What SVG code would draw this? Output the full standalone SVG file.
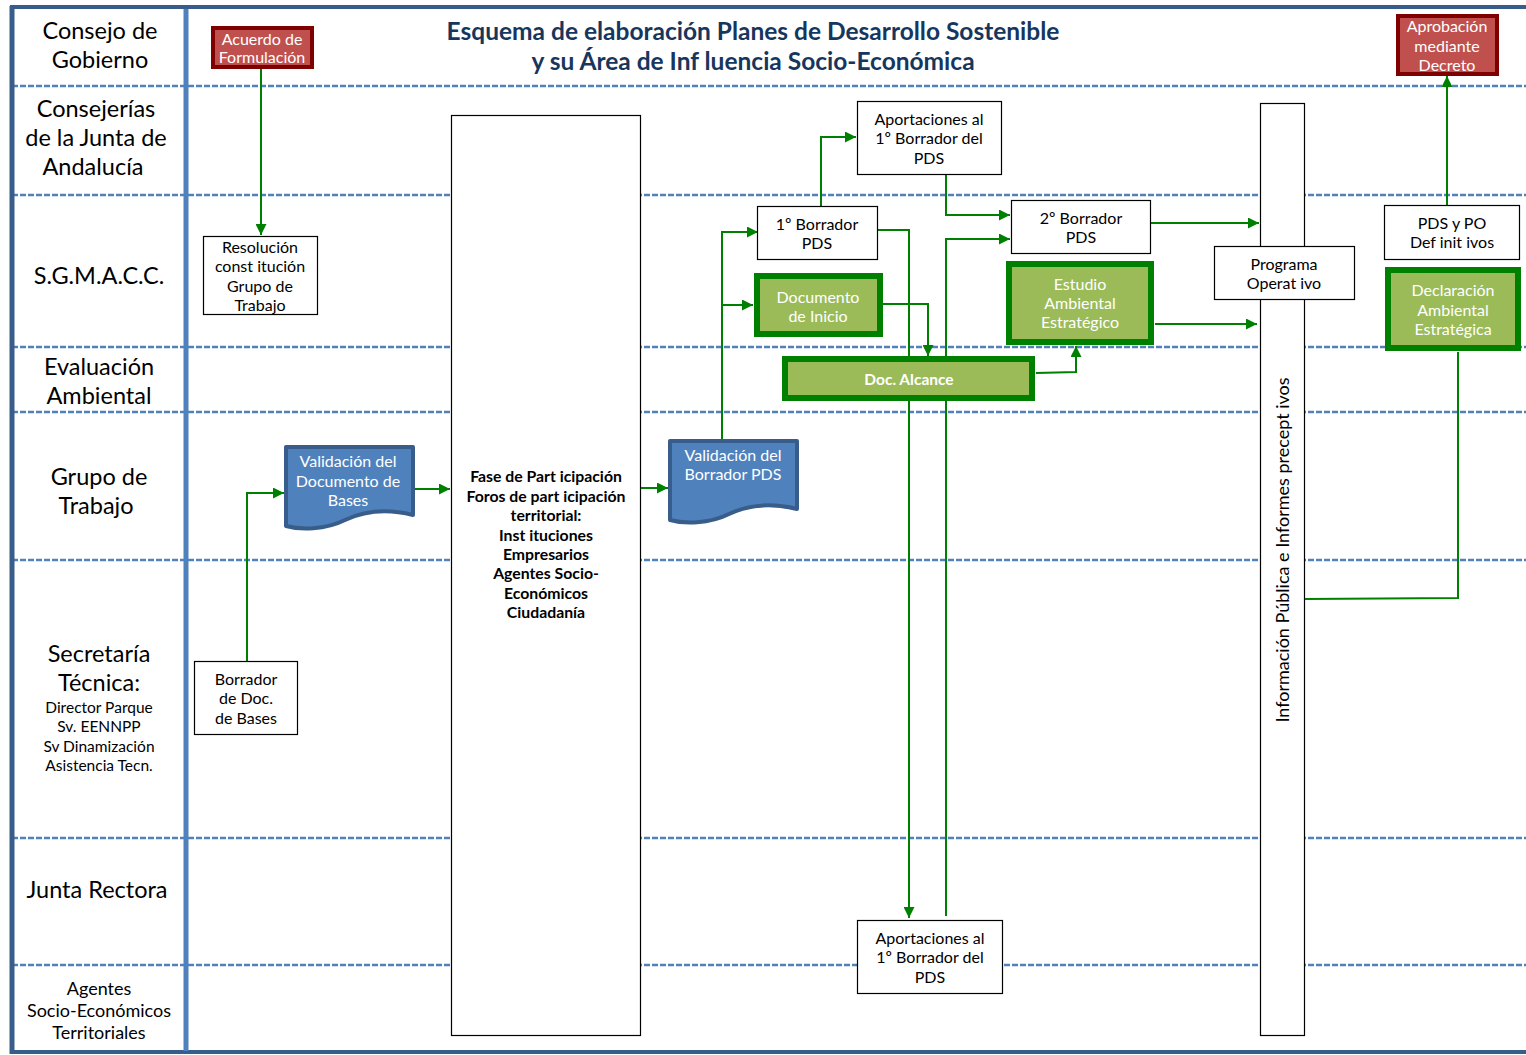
<svg xmlns="http://www.w3.org/2000/svg" width="1526" height="1055" viewBox="0 0 1526 1055">
<defs>
<style>
text{font-family:Lato,"Liberation Sans",sans-serif;text-anchor:middle}
.lane{font-size:23.5px;fill:#000}
.lanesm{font-size:15.5px;fill:#000}
.lanemd{font-size:18px;fill:#000}
.title{font-size:24.5px;font-weight:bold;fill:#17365D}
.bt{font-size:16px;fill:#000}
.wt{font-size:16px;fill:#fff}
.bold{font-size:15.8px;font-weight:bold;fill:#000}
.sep{stroke:#4F81BD;stroke-width:2.5;stroke-dasharray:6 2;fill:none}
.wbox{fill:#fff;stroke:#000;stroke-width:1.2}
.red{fill:#C0504D;stroke:#7F0000;stroke-width:4}
.grn{fill:#9BBB59;stroke:#008000;stroke-width:6}
.doc{fill:#4F81BD;stroke:#385D8A;stroke-width:4;stroke-linejoin:round}
.con{fill:none;stroke:#008000;stroke-width:2}
</style>
<marker id="ah" viewBox="0 0 10 10" refX="10" refY="5" markerWidth="12" markerHeight="11" markerUnits="userSpaceOnUse" orient="auto">
<path d="M0,0 L10,5 L0,10 Z" fill="#008000"/>
</marker>
</defs>
<rect width="1526" height="1055" fill="#fff"/>
<g id="lanes">
<line class="sep" x1="12" y1="86" x2="1526" y2="86"/>
<line class="sep" x1="12" y1="195" x2="1526" y2="195"/>
<line class="sep" x1="12" y1="347" x2="1526" y2="347"/>
<line class="sep" x1="12" y1="412" x2="1526" y2="412"/>
<line class="sep" x1="12" y1="560" x2="1526" y2="560"/>
<line class="sep" x1="12" y1="838" x2="1526" y2="838"/>
<line class="sep" x1="12" y1="965" x2="1526" y2="965"/>
<line x1="10" y1="7" x2="1526" y2="7" stroke="#385D8A" stroke-width="4"/>
<line x1="10" y1="1052" x2="1526" y2="1052" stroke="#385D8A" stroke-width="4"/>
<line x1="12" y1="6" x2="12" y2="1054" stroke="#385D8A" stroke-width="5"/>
<line x1="186" y1="9" x2="186" y2="1051" stroke="#4F81BD" stroke-width="5"/>
<text class="lane" x="100" y="39">Consejo de</text>
<text class="lane" x="100" y="68">Gobierno</text>
<text class="lane" x="96" y="117">Consejerías</text>
<text class="lane" x="96" y="146">de la Junta de</text>
<text class="lane" x="93" y="175">Andalucía</text>
<text class="lane" x="99" y="284">S.G.M.A.C.C.</text>
<text class="lane" x="99" y="375">Evaluación</text>
<text class="lane" x="99" y="404">Ambiental</text>
<text class="lane" x="99" y="485">Grupo de</text>
<text class="lane" x="96" y="514">Trabajo</text>
<text class="lane" x="99" y="662">Secretaría</text>
<text class="lane" x="99" y="691">Técnica:</text>
<text class="lanesm" x="99" y="713">Director Parque</text>
<text class="lanesm" x="99" y="732">Sv. EENNPP</text>
<text class="lanesm" x="99" y="752">Sv Dinamización</text>
<text class="lanesm" x="99" y="771">Asistencia Tecn.</text>
<text class="lane" x="97" y="898">Junta Rectora</text>
<text class="lanemd" x="99" y="995">Agentes</text>
<text class="lanemd" x="99" y="1017">Socio-Económicos</text>
<text class="lanemd" x="99" y="1039">Territoriales</text>
</g>
<g id="title">
<text class="title" x="753" y="40">Esquema de elaboración Planes de Desarrollo Sostenible</text>
<text class="title" x="753" y="70">y su Área de Inf luencia Socio-Económica</text>
</g>
<g id="fase">
<rect class="wbox" x="451.5" y="115.5" width="189" height="920"/>
<text class="bold" x="546" y="482">Fase de Part icipación</text>
<text class="bold" x="546" y="502">Foros de part icipación</text>
<text class="bold" x="546" y="521">territorial:</text>
<text class="bold" x="546" y="541">Inst ituciones</text>
<text class="bold" x="546" y="560">Empresarios</text>
<text class="bold" x="546" y="579">Agentes Socio-</text>
<text class="bold" x="546" y="599">Económicos</text>
<text class="bold" x="546" y="618">Ciudadanía</text>
</g>
<g id="info">
<rect class="wbox" x="1260.5" y="103.5" width="44" height="932"/>
<text class="lanemd" transform="translate(1289,550) rotate(-90)" x="0" y="0">Información Pública e Informes precept ivos</text>
</g>
<g id="connectors">
<line class="con" x1="261" y1="69" x2="261" y2="235" marker-end="url(#ah)"/>
<polyline class="con" points="247,661 247,493 284,493" marker-end="url(#ah)"/>
<line class="con" x1="414" y1="489" x2="450" y2="489" marker-end="url(#ah)"/>
<line class="con" x1="641" y1="488" x2="668" y2="488" marker-end="url(#ah)"/>
<polyline class="con" points="722,440 722,232 758,232" marker-end="url(#ah)"/>
<line class="con" x1="722" y1="305" x2="753" y2="305" marker-end="url(#ah)"/>
<polyline class="con" points="821,206 821,137 856,137" marker-end="url(#ah)"/>
<polyline class="con" points="946,174 946,215 1010,215" marker-end="url(#ah)"/>
<polyline class="con" points="877,230 909,230 909,918" marker-end="url(#ah)"/>
<polyline class="con" points="883,304 928,304 928,356" marker-end="url(#ah)"/>
<polyline class="con" points="946,916 946,239 1010,239" marker-end="url(#ah)"/>
<polyline class="con" points="1036,373 1076,372 1076,346" marker-end="url(#ah)"/>
<line class="con" x1="1150" y1="223" x2="1259" y2="223" marker-end="url(#ah)"/>
<line class="con" x1="1155" y1="324" x2="1257" y2="324" marker-end="url(#ah)"/>
<polyline class="con" points="1305,599 1458,598 1458,352"/>
<line class="con" x1="1447" y1="205" x2="1447" y2="76" marker-end="url(#ah)"/>
</g>
<g id="acuerdo">
<rect class="red" x="213" y="28" width="99" height="39"/>
<text class="wt" x="262" y="45">Acuerdo de</text>
<text class="wt" x="262" y="63">Formulación</text>
</g>
<g id="aprobacion">
<rect class="red" x="1398" y="16" width="99" height="58"/>
<text class="wt" x="1447" y="32">Aprobación</text>
<text class="wt" x="1447" y="52">mediante</text>
<text class="wt" x="1447" y="71">Decreto</text>
</g>
<g id="resolucion">
<rect class="wbox" x="203.5" y="236.5" width="114" height="78"/>
<text class="bt" x="260" y="253">Resolución</text>
<text class="bt" x="260" y="272">const itución</text>
<text class="bt" x="260" y="292">Grupo de</text>
<text class="bt" x="260" y="311">Trabajo</text>
</g>
<g id="borrador-bases">
<rect class="wbox" x="194.5" y="661.5" width="103" height="73"/>
<text class="bt" x="246" y="685">Borrador</text>
<text class="bt" x="246" y="704">de Doc.</text>
<text class="bt" x="246" y="724">de Bases</text>
</g>
<g id="validacion-bases">
<path class="doc" d="M286,447 H413 V515 C385,508 362,512 345,520 C325,530 300,530 286,526 Z"/>
<text class="wt" x="348" y="467">Validación del</text>
<text class="wt" x="348" y="487">Documento de</text>
<text class="wt" x="348" y="506">Bases</text>
</g>
<g id="validacion-borrador">
<path class="doc" d="M670,441 H797 V509 C769,502 746,506 729,514 C709,524 684,524 670,520 Z"/>
<text class="wt" x="733" y="461">Validación del</text>
<text class="wt" x="733" y="480">Borrador PDS</text>
</g>
<g id="borrador1">
<rect class="wbox" x="757.5" y="206.5" width="120" height="53"/>
<text class="bt" x="817" y="230">1º Borrador</text>
<text class="bt" x="817" y="249">PDS</text>
</g>
<g id="doc-inicio">
<rect class="grn" x="757" y="276" width="123" height="58"/>
<text class="wt" x="818" y="303">Documento</text>
<text class="wt" x="818" y="322">de Inicio</text>
</g>
<g id="doc-alcance">
<rect class="grn" x="785" y="359" width="247" height="39"/>
<text class="wt" x="909" y="385" style="font-weight:bold;font-size:15.5px">Doc. Alcance</text>
</g>
<g id="aportaciones-top">
<rect class="wbox" x="857.5" y="101.5" width="144" height="73"/>
<text class="bt" x="929" y="125">Aportaciones al</text>
<text class="bt" x="929" y="144">1º Borrador del</text>
<text class="bt" x="929" y="164">PDS</text>
</g>
<g id="borrador2">
<rect class="wbox" x="1011.5" y="200.5" width="139" height="53"/>
<text class="bt" x="1081" y="224">2º Borrador</text>
<text class="bt" x="1081" y="243">PDS</text>
</g>
<g id="estudio">
<rect class="grn" x="1009" y="264" width="142" height="78"/>
<text class="wt" x="1080" y="290">Estudio</text>
<text class="wt" x="1080" y="309">Ambiental</text>
<text class="wt" x="1080" y="328">Estratégico</text>
</g>
<g id="programa">
<rect class="wbox" x="1214.5" y="246.5" width="140" height="53"/>
<text class="bt" x="1284" y="270">Programa</text>
<text class="bt" x="1284" y="289">Operat ivo</text>
</g>
<g id="pds-po">
<rect class="wbox" x="1384.5" y="205.5" width="135" height="54"/>
<text class="bt" x="1452" y="229">PDS y PO</text>
<text class="bt" x="1452" y="248">Def init ivos</text>
</g>
<g id="declaracion">
<rect class="grn" x="1388" y="270" width="130" height="78"/>
<text class="wt" x="1453" y="296">Declaración</text>
<text class="wt" x="1453" y="316">Ambiental</text>
<text class="wt" x="1453" y="335">Estratégica</text>
</g>
<g id="aportaciones-bottom">
<rect class="wbox" x="857.5" y="920.5" width="145" height="73"/>
<text class="bt" x="930" y="944">Aportaciones al</text>
<text class="bt" x="930" y="963">1º Borrador del</text>
<text class="bt" x="930" y="983">PDS</text>
</g>
</svg>
